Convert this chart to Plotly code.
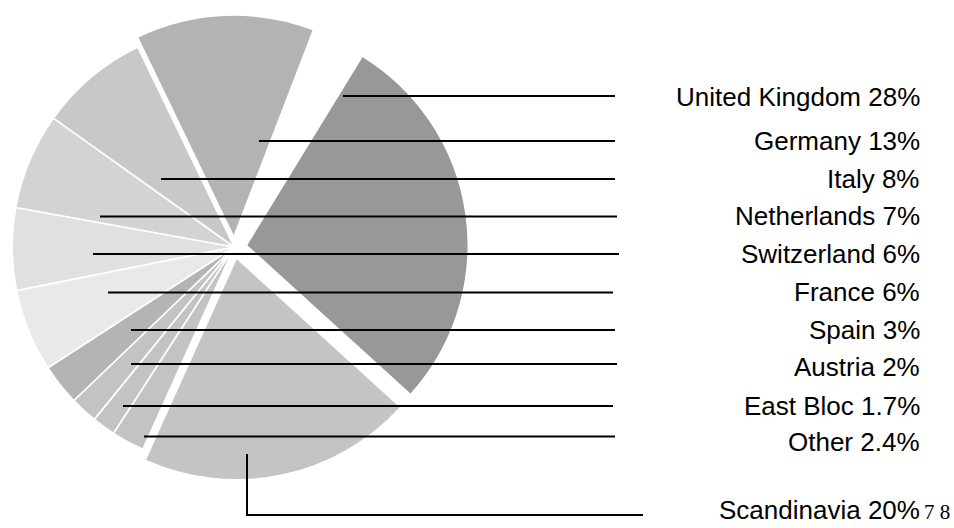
import plotly.graph_objects as go

# Export shares by destination, percent of total
regions = ["United Kingdom", "Germany", "Italy", "Netherlands", "Switzerland",
           "France", "Spain", "Austria", "East Bloc", "Other", "Scandinavia"]
shares = [28, 13, 8, 7, 6, 6, 3, 2, 1.7, 2.4, 20]

# Slice sequence, clockwise
wedge_order = ["United Kingdom", "Scandinavia", "Other", "East Bloc", "Austria",
               "Spain", "France", "Switzerland", "Netherlands", "Italy", "Germany"]

# --- styling -------------------------------------------------------------
W, H = 954, 528
greys = {
    "United Kingdom": "#989898", "Germany": "#b3b3b3", "Italy": "#c8c8c8",
    "Netherlands": "#d3d3d3", "Switzerland": "#e0e0e0", "France": "#e9e9e9",
    "Spain": "#b4b4b4", "Austria": "#c3c3c3", "East Bloc": "#c3c3c3",
    "Other": "#c3c3c3", "Scandinavia": "#c4c4c4",
}
pulled = {"United Kingdom": 0.055, "Germany": 0.045, "Scandinavia": 0.05}

share_of = dict(zip(regions, shares))
values = [share_of[r] for r in wedge_order]
unassigned = round(100 - sum(shares), 2)

pie_labels = wedge_order + ["unassigned"]
pie_values = values + [unassigned]
pie_colors = [greys[r] for r in wedge_order] + ["rgba(0,0,0,0)"]
pie_pull = [pulled.get(r, 0) for r in wedge_order] + [0]
line_w = [1.6] * len(wedge_order) + [0]

# pie placement (pixels)
cx, cy, box = 234.2, 247.0, 468.4

fig = go.Figure(go.Pie(
    labels=pie_labels,
    values=pie_values,
    sort=False,
    direction="clockwise",
    rotation=31.5,
    pull=pie_pull,
    marker=dict(colors=pie_colors, line=dict(color="white", width=line_w)),
    textinfo="none",
    hoverinfo="label+percent",
    showlegend=False,
    domain=dict(x=[(cx - box / 2) / W, (cx + box / 2) / W],
                y=[1 - (cy + box / 2) / H, 1 - (cy - box / 2) / H]),
))


def px(x, y):
    return x / W, 1 - y / H


# label placement: leader start x, line y, line end x, text centre y
leaders = {
    "United Kingdom": (343, 96, 615, 97),
    "Germany": (259, 141, 615, 141),
    "Italy": (161, 179, 615, 179),
    "Netherlands": (100, 216.5, 617, 216),
    "Switzerland": (93, 254, 619, 254),
    "France": (108, 292.5, 613, 292),
    "Spain": (131, 330, 615, 330),
    "Austria": (131, 364, 617, 367),
    "East Bloc": (123, 406, 613, 406),
    "Other": (144, 436.5, 615, 442),
}

shapes = []
annotations = []
for name, val in zip(regions, shares):
    text = f"{name} {val:g}%"
    if name in leaders:
        x0, ly, x1, ty = leaders[name]
        a0, b0 = px(x0, ly)
        a1, b1 = px(x1, ly)
        shapes.append(dict(type="line", xref="paper", yref="paper",
                           x0=a0, y0=b0, x1=a1, y1=b1,
                           line=dict(color="black", width=2)))
    else:
        ty = 510
        p = [px(247, 454), px(247, 515), px(643, 515)]
        path = "M {} {} L {} {} L {} {}".format(*[c for pt in p for c in pt])
        shapes.append(dict(type="path", xref="paper", yref="paper", path=path,
                           line=dict(color="black", width=2)))
    tx, tyy = px(922, ty)
    annotations.append(dict(x=tx, y=tyy, xref="paper", yref="paper",
                            text=text, showarrow=False,
                            xanchor="right", yanchor="middle",
                            font=dict(family="Liberation Sans, Arial, sans-serif",
                                      size=26, color="black")))

fx, fy = px(952, 512)
annotations.append(dict(x=fx, y=fy, xref="paper", yref="paper", text="7 8",
                        showarrow=False, xanchor="right", yanchor="middle",
                        font=dict(family="Liberation Serif, Times New Roman, serif",
                                  size=21, color="black")))

fig.update_layout(
    width=W, height=H,
    margin=dict(l=0, r=0, t=0, b=0),
    paper_bgcolor="white",
    plot_bgcolor="white",
    shapes=shapes,
    annotations=annotations,
)

fig.write_html("out.html")
